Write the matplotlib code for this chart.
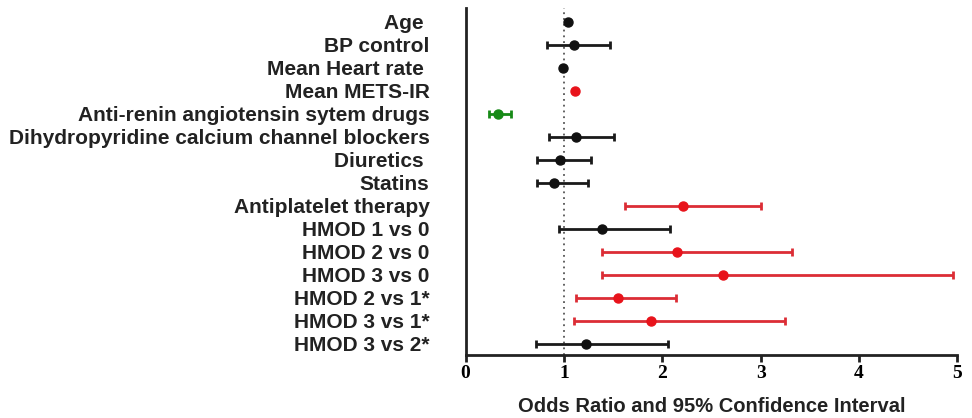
import matplotlib
matplotlib.use("Agg")
import matplotlib.pyplot as plt

labels = ["Age ", "BP control", "Mean Heart rate ", "Mean METS-IR",
          "Anti-renin angiotensin sytem drugs",
          "Dihydropyridine calcium channel blockers",
          "Diuretics ", "Statins", "Antiplatelet therapy",
          "HMOD 1 vs 0", "HMOD 2 vs 0", "HMOD 3 vs 0",
          "HMOD 2 vs 1*", "HMOD 3 vs 1*", "HMOD 3 vs 2*"]
odds = [1.04, 1.10, 0.99, 1.11, 0.33, 1.12, 0.96, 0.90, 2.21,
        1.39, 2.15, 2.62, 1.55, 1.88, 1.22]
ci_low = [1.02, 0.83, 0.97, 1.09, 0.24, 0.85, 0.73, 0.73, 1.62,
          0.95, 1.39, 1.39, 1.12, 1.10, 0.72]
ci_high = [1.06, 1.47, 1.01, 1.13, 0.46, 1.51, 1.28, 1.24, 3.00,
           2.08, 3.32, 4.96, 2.14, 3.25, 2.06]
groups = ["k", "k", "k", "r", "g", "k", "k", "k", "r",
          "k", "r", "r", "r", "r", "k"]

colours = {"k": "#111111", "r": "#e8131b", "g": "#178a17"}
line_colours = {"k": "#1a1a1a", "r": "#dc2d35", "g": "#178a17"}

fig = plt.figure(figsize=(9.72, 4.18), dpi=100)
ax = fig.add_axes([0.479, 0.151, 0.506, 0.830])

ax.axvline(1, color="#555555", linestyle=(0, (1, 2.2)), linewidth=1.3, zorder=1)

for i in range(len(labels)):
    g = groups[i]
    # only draw whiskers when the CI is wider than the marker
    if ci_high[i] - ci_low[i] > 0.1:
        ax.errorbar(odds[i], i,
                    xerr=[[odds[i] - ci_low[i]], [ci_high[i] - odds[i]]],
                    fmt="none", ecolor=line_colours[g], elinewidth=2,
                    capsize=2.6, capthick=2, zorder=2)
    ax.plot(odds[i], i, "o", color=colours[g], markersize=6.5, zorder=3)

ax.set_xlim(0, 5)
ax.set_ylim(len(labels) - 1 + 0.48, -0.61)
ax.set_yticks(range(len(labels)))
ax.set_yticklabels(labels, family="Liberation Sans", fontweight="bold",
                   fontsize=15, color="#222222")
ax.tick_params(axis="y", length=0, pad=26)
ax.set_xticks([0, 1, 2, 3, 4, 5])
ax.set_xticklabels(["0", "1", "2", "3", "4", "5"], family="Liberation Serif",
                   fontweight="bold", fontsize=14)
ax.tick_params(axis="x", length=5, width=2, color="#222222", pad=2)

for side in ["top", "right"]:
    ax.spines[side].set_visible(False)
for side in ["left", "bottom"]:
    ax.spines[side].set_linewidth(2)
    ax.spines[side].set_color("#222222")

ax.set_xlabel("Odds Ratio and 95% Confidence Interval", family="Liberation Sans",
              fontweight="bold", fontsize=14.5, color="#222222", labelpad=11)

fig.savefig("out.png", dpi=100)
